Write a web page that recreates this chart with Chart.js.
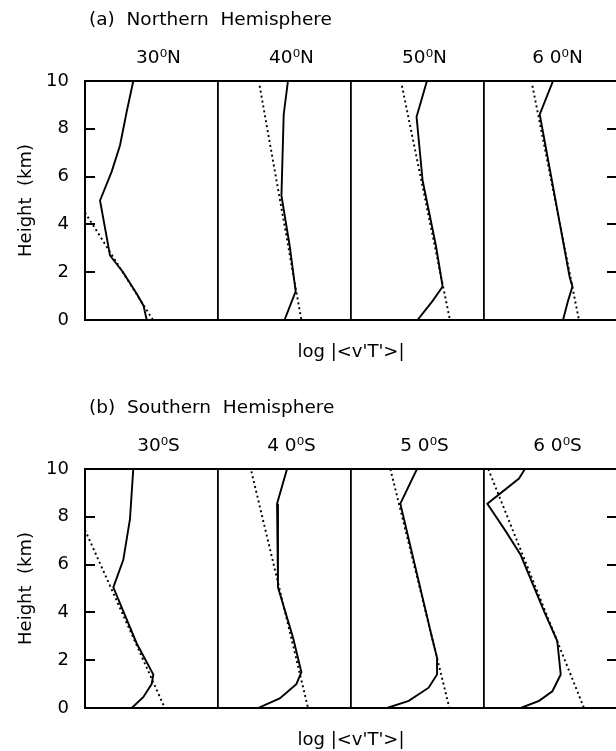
<!DOCTYPE html>
<html>
<head>
<meta charset="utf-8">
<script src="https://cdn.jsdelivr.net/npm/chart.js@4.4.1/dist/chart.umd.min.js"></script>
<style>
  html, body { margin: 0; padding: 0; background: #fff; }
  #wrap { position: relative; width: 616px; height: 751px; overflow: hidden; }
  .panel { position: absolute; left: 0; width: 630px; height: 388px; }
  .head { position: absolute; left: 89px; top: 8px; font: 18.5px "DejaVu Sans", sans-serif; white-space: pre; color: #000; }
</style>
</head>
<body>
<div id="wrap">
  <div class="panel" style="top:0">
    <canvas id="north" width="630" height="388"></canvas>
    <div class="head">(a)  Northern  Hemisphere</div>
  </div>
  <div class="panel" style="top:388px">
    <canvas id="south" width="630" height="388"></canvas>
    <div class="head">(b)  Southern  Hemisphere</div>
  </div>
</div>
<script>
// column labels (one column per latitude, each column spans one unit of log|<v'T'>|)
const labelsN = ["30⁰N", "40⁰N", "50⁰N", "6 0⁰N"];
const labelsS = ["30⁰S", "4 0⁰S", "5 0⁰S", "6 0⁰S"];
const heightTicks = [0, 2, 4, 6, 8, 10];
const xTitle = "log |<v'T'>|";

// profiles as [height km, log value within its column]
const obsN30 = [[10,.363],[8.7,.313],[7.3,.263],[6.2,.20],[5.0,.113],[2.7,.188],[2.0,.286],[1.1,.389],[0.6,.44],[0,.464]];
const fitN30 = [[4.5,0],[0,.511]];
const obsN40 = [[10,.526],[8.6,.494],[5.2,.477],[3.1,.539],[1.2,.584],[0,.50]];
const fitN40 = [[9.8,.313],[0,.627]];
const obsN50 = [[10,.571],[8.5,.493],[5.85,.538],[3.1,.639],[1.4,.689],[0.8,.614],[0,.50]];
const fitN50 = [[9.8,.383],[0,.744]];
const obsN60 = [[10,.519],[8.6,.419],[1.8,.644],[1.4,.665],[0.8,.632],[0,.594]];
const fitN60 = [[9.8,.364],[0,.714]];

const obsS30 = [[10,.363],[7.9,.338],[6.2,.288],[5.05,.213],[2.7,.389],[1.4,.514],[1.0,.501],[0.45,.438],[0,.351]];
const fitS30 = [[7.45,0],[0,.60]];
const obsS40 = [[10,.519],[8.55,.444],[5.05,.451],[2.95,.564],[1.5,.627],[1.0,.589],[0.4,.464],[0,.301]];
const fitS40 = [[9.9,.251],[0,.677]];
const obsS50 = [[10,.496],[8.55,.371],[2.95,.609],[2.1,.647],[1.4,.647],[0.85,.584],[0.3,.434],[0,.271]];
const fitS50 = [[10,.296],[0,.74]];
const obsS60 = [[10,.308],[9.6,.263],[8.55,.025],[7.4,.163],[6.4,.276],[4.05,.451],[2.8,.551],[1.4,.577],[0.7,.514],[0.3,.414],[0,.276]];
const fitS60 = [[10,.032],[0,.752]];

Chart.defaults.font.family = '"DejaVu Sans", sans-serif';
Chart.defaults.color = '#000';

// short inward ticks on both side borders
const innerTicks = {
  id: 'innerTicks',
  afterDraw(chart){
    const {ctx, chartArea: a, scales: {y}} = chart;
    ctx.save();
    ctx.strokeStyle = '#000';
    ctx.lineWidth = 1.8;
    heightTicks.forEach(v=>{
      if (v === 0 || v === 10) return;
      const py = Math.round(y.getPixelForValue(v));
      ctx.beginPath();
      ctx.moveTo(a.left, py); ctx.lineTo(a.left + 10, py);
      ctx.moveTo(a.right - 10, py); ctx.lineTo(a.right, py);
      ctx.stroke();
    });
    ctx.restore();
  }
};

function toPoints(profile, col){
  return profile.map(([h, v]) => ({ x: col + v, y: h }));
}

function makePanel(id, labels, obs, fits){
  const datasets = [];
  obs.forEach((p, i)=>{
    datasets.push({ data: toPoints(p, i), borderColor: '#000', borderWidth: 1.9, pointRadius: 0, showLine: true });
  });
  fits.forEach((p, i)=>{
    datasets.push({ data: toPoints(p, i), borderColor: '#000', borderWidth: 1.9, borderDash: [2, 3], pointRadius: 0, showLine: true });
  });

  new Chart(document.getElementById(id), {
    type: 'scatter',
    data: { datasets },
    plugins: [innerTicks],
    options: {
      responsive: false,
      animation: false,
      events: [],
      layout: { padding: { left: 0, right: 13, top: 0, bottom: 0 } },
      plugins: { legend: { display: false }, tooltip: { enabled: false } },
      scales: {
        x: {
          type: 'linear', position: 'bottom', min: 0, max: 4,
          afterFit: s => { s.height = 68; },
          ticks: { stepSize: 1, display: false },
          grid: { display: true, drawTicks: false, color: '#000', lineWidth: 1.8 },
          border: { display: true, color: '#000', width: 2 },
          title: { display: true, text: xTitle, font: { size: 18 }, padding: { top: 0, bottom: 25 } }
        },
        xTop: {
          type: 'linear', position: 'top', min: 0, max: 4,
          afterFit: s => { s.height = 81; },
          afterBuildTicks: s => { s.ticks = labels.map((_, i) => ({ value: i + 0.5 })); },
          ticks: { callback: (v, i) => labels[i], font: { size: 18.5 }, padding: 12, labelOffset: 7, maxRotation: 0, autoSkip: false },
          grid: { display: false, drawTicks: false },
          border: { display: true, color: '#000', width: 2 }
        },
        y: {
          type: 'linear', position: 'left', min: 0, max: 10,
          afterFit: s => { s.width = 85; },
          ticks: { stepSize: 2, font: { size: 18 }, padding: 16 },
          grid: { display: false, drawTicks: false },
          border: { display: true, color: '#000', width: 2 },
          title: { display: true, text: 'Height  (km)', font: { size: 18 }, padding: { top: 16, bottom: 0 } }
        }
      }
    }
  });
}

makePanel('north', labelsN, [obsN30, obsN40, obsN50, obsN60], [fitN30, fitN40, fitN50, fitN60]);
makePanel('south', labelsS, [obsS30, obsS40, obsS50, obsS60], [fitS30, fitS40, fitS50, fitS60]);
</script>
</body>
</html>
